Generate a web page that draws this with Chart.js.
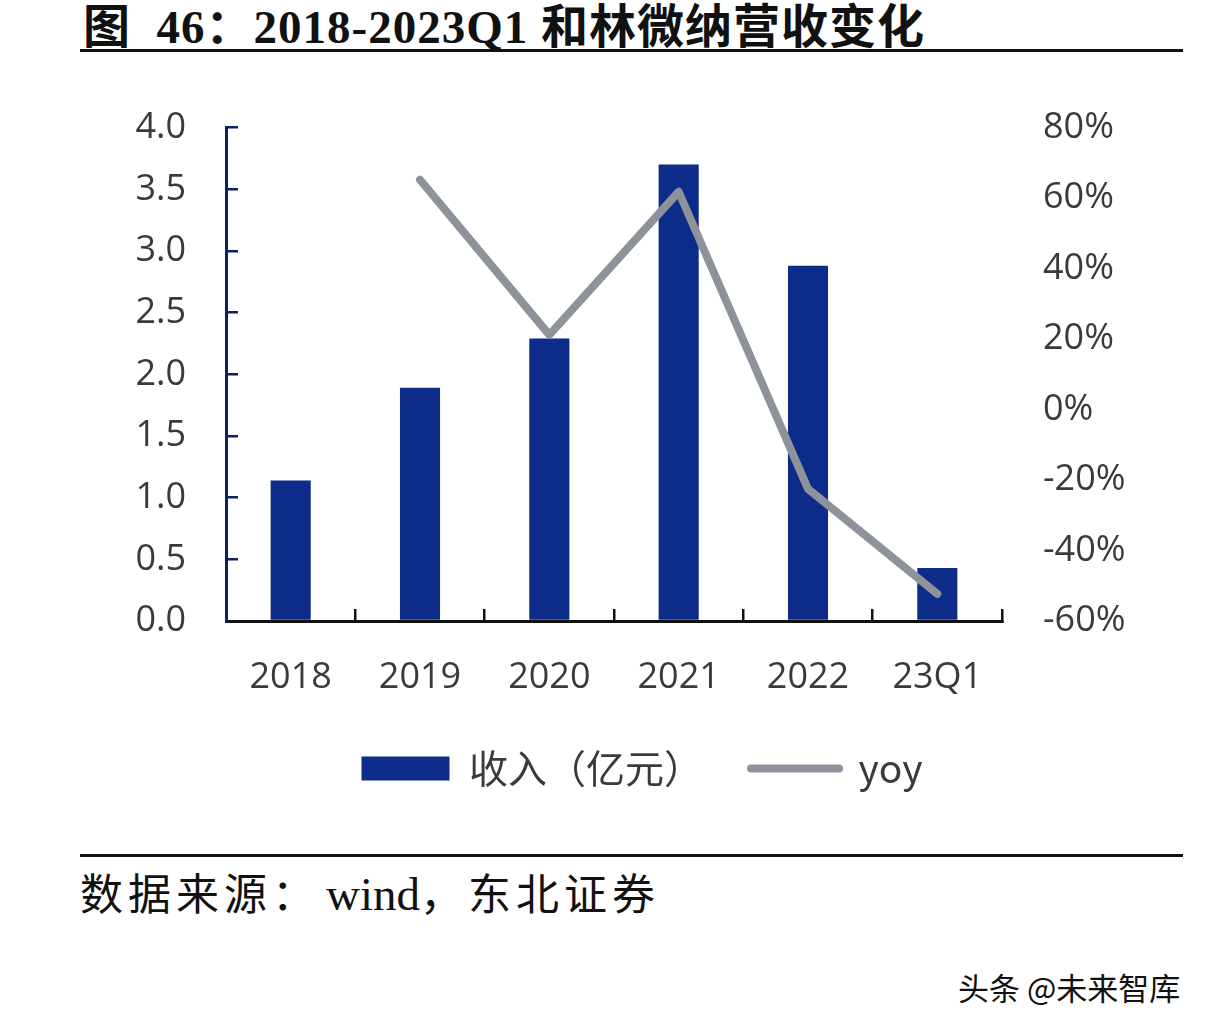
<!DOCTYPE html>
<html><head><meta charset="utf-8">
<script src="https://cdn.jsdelivr.net/npm/chart.js@4"></script>
<style>
html,body{margin:0;padding:0;background:#fff;width:1208px;height:1028px;overflow:hidden;position:relative}
#title{position:absolute;left:83px;top:-1px;line-height:56px;font-family:"Liberation Serif","Noto Sans CJK SC",serif;font-weight:bold;font-size:47px;color:#111;white-space:nowrap;letter-spacing:1px}
.rule{position:absolute;left:80px;width:1103px;height:3px;background:#111}
#src{position:absolute;left:80px;top:860px;font-family:"Liberation Serif","Noto Sans CJK SC",serif;font-size:43px;letter-spacing:5px;color:#111;white-space:nowrap}
#src .w{font-size:47px;letter-spacing:0;margin-left:6px}
#wm{position:absolute;left:958px;top:964px;font-family:"Noto Sans CJK SC",sans-serif;font-size:31px;color:#111;white-space:nowrap;text-shadow:0 0 2px #fff}
#wrap{position:absolute;left:0;top:54px;width:1208px;height:754px}
</style></head><body>
<div id="title">图&nbsp;&nbsp;46：2018-2023Q1 和林微纳营收变化</div>
<div class="rule" style="top:49px"></div>
<div id="wrap"><canvas id="c"></canvas></div>
<div class="rule" style="top:854px"></div>
<div id="src">数据来源：<span class="w">wind</span>，东北证券</div>
<div id="wm">头条 @未来智库</div>
<script>
const categories = ["2018","2019","2020","2021","2022","23Q1"];
const revenue = [1.14, 1.89, 2.29, 3.70, 2.88, 0.43];
const yoy = [null, 65.2, 21.2, 61.8, -22.5, -52.3];
const leftTicks = [0,0.5,1,1.5,2,2.5,3,3.5,4];
const rightTicks = [-60,-40,-20,0,20,40,60,80];
const seriesNames = ["收入（亿元）","yoy"];

const tickFont = {family:"'Open Sans', 'Noto Sans', sans-serif", size:36};
const tickColor = "#3a3a3a";

new Chart(document.getElementById('c'), {
  data: {
    labels: categories,
    datasets: [
      {type:'line', label:seriesNames[1], data:yoy, yAxisID:'y1', borderColor:'#8d929b', borderWidth:8,
       pointRadius:0, borderCapStyle:'round', borderJoinStyle:'round', tension:0, order:0},
      {type:'bar', label:seriesNames[0], data:revenue, yAxisID:'y', backgroundColor:'#0d2b88',
       barPercentage:0.62, categoryPercentage:0.5, order:1}
    ]
  },
  options: {
    responsive:true, maintainAspectRatio:false, animation:false,
    layout:{padding:{top:46, left:76, right:0, bottom:10}},
    plugins:{
      tooltip:{enabled:false},
      legend:{position:'bottom', reverse:true,
        labels:{usePointStyle:true, pointStyleWidth:88, boxHeight:24, padding:48,
          color:'#3a3a3a', font:{family:"'Noto Sans CJK SC', sans-serif", size:39},
          generateLabels:(chart)=>{
            const items = Chart.defaults.plugins.legend.labels.generateLabels(chart);
            items.forEach(it=>{
              const ds = chart.data.datasets[it.datasetIndex];
              if (ds.type==='bar'){ it.pointStyle='rect'; it.lineWidth=0; it.fillStyle=ds.backgroundColor; it.strokeStyle=ds.backgroundColor; }
              else { it.pointStyle='line'; it.lineWidth=8; it.strokeStyle=ds.borderColor; it.lineCap='round'; }
            });
            return items;
          }
        }
      }
    },
    scales:{
      x:{offset:true,
        grid:{offset:true, drawOnChartArea:false, drawTicks:true, tickLength:-12, color:'#111', lineWidth:2.5},
        border:{display:true, color:'#111', width:3},
        ticks:{color:tickColor, font:tickFont, padding:47, maxRotation:0},
        afterFit:(s)=>{s.height=80;}
      },
      y:{position:'left', min:0, max:4,
        afterBuildTicks:(s)=>{s.ticks = leftTicks.map(v=>({value:v}));},
        grid:{drawOnChartArea:false, drawTicks:true, tickLength:-12, color:'#0a2060', lineWidth:2.5},
        border:{display:true, color:'#0a2060', width:3},
        ticks:{color:tickColor, font:tickFont, padding:52, callback:(v)=>Number(v).toFixed(1)},
        afterFit:(s)=>{s.width=150;}
      },
      y1:{position:'right', min:-60, max:80,
        afterBuildTicks:(s)=>{s.ticks = rightTicks.map(v=>({value:v}));},
        grid:{display:false, drawTicks:false},
        border:{display:false},
        ticks:{color:tickColor, font:tickFont, padding:41, callback:(v)=>v+'%'},
        afterFit:(s)=>{s.width=206;}
      }
    }
  }
});
</script>
</body></html>
